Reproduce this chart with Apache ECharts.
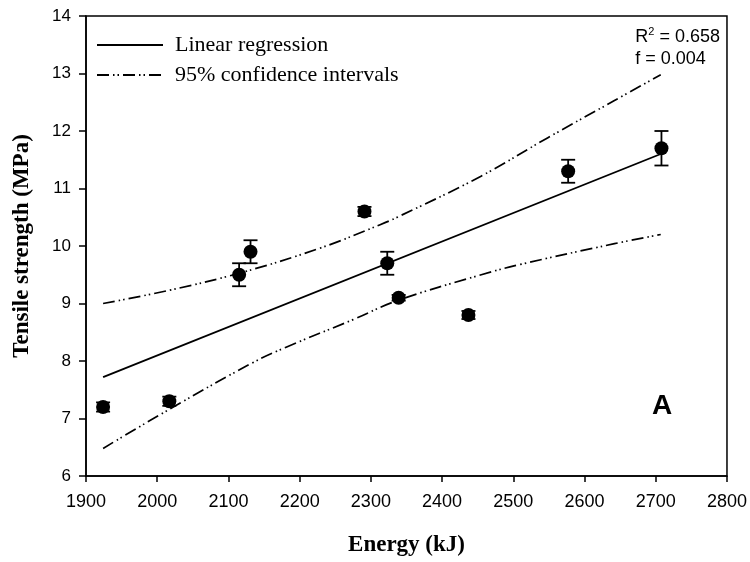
<!DOCTYPE html>
<html>
<head>
<meta charset="utf-8">
<script src="https://cdn.jsdelivr.net/npm/echarts@6/dist/echarts.min.js"></script>
<style>
  html, body { margin: 0; padding: 0; background: #fff; }
  #chart { width: 750px; height: 562px; }
</style>
</head>
<body>
<div id="chart"></div>
<script>
// measured points: energy (kJ), tensile strength (MPa), error (MPa)
const energy = [1924, 2017, 2115, 2131, 2291, 2323, 2339, 2437, 2577, 2708]
const strength = [7.2, 7.3, 9.5, 9.9, 10.6, 9.7, 9.1, 8.8, 11.3, 11.7]
const errors = [0.08, 0.08, 0.2, 0.2, 0.08, 0.2, 0.05, 0.07, 0.2, 0.3]

// fitted line end points
const regX = [1924, 2707]
const regY = [7.72, 11.6]

// 95% confidence bands
const upperX = [1924, 2017, 2116, 2228, 2313, 2337, 2454, 2548, 2642, 2707]
const upperY = [9.0, 9.23, 9.53, 9.96, 10.37, 10.5, 11.21, 11.88, 12.53, 12.98]
const lowerX = [1924, 2017, 2134, 2181, 2275, 2337, 2455, 2510, 2642, 2707]
const lowerY = [6.48, 7.16, 7.97, 8.24, 8.72, 9.05, 9.5, 9.68, 10.04, 10.2]

const xTicks = { min: 1900, max: 2800, interval: 100 }
const yTicks = { min: 6, max: 14, interval: 1 }

const serif = 'Liberation Serif'
const sans = 'Liberation Sans'

const zip = (a, b) => a.map((v, i) => [v, b[i]])
const bandStyle = { color: '#000', width: 1.7, type: [12, 4, 1.5, 3, 1.5, 4] }

const chart = echarts.init(document.getElementById('chart'))

const option = {
  backgroundColor: '#fff',
  animation: false,
  grid: {
    left: 86,
    right: 23,
    top: 16,
    bottom: 84,
    show: true,
    borderColor: '#000',
    borderWidth: 1.5
  },
  legend: {
    data: ['Linear regression', '95% confidence intervals'],
    orient: 'vertical',
    left: 91,
    top: 29,
    itemWidth: 66,
    itemHeight: 12,
    itemGap: 8,
    itemStyle: { opacity: 0 },
    textStyle: { fontFamily: serif, fontSize: 22, color: '#000', padding: [0, 0, 0, 7] }
  },
  xAxis: {
    type: 'value',
    min: xTicks.min,
    max: xTicks.max,
    interval: xTicks.interval,
    name: 'Energy (kJ)',
    nameLocation: 'middle',
    nameGap: 58,
    nameTextStyle: { fontFamily: serif, fontWeight: 'bold', fontSize: 23, color: '#000' },
    axisLine: { lineStyle: { color: '#000', width: 1.5 } },
    axisTick: { show: true, length: 6, lineStyle: { color: '#000', width: 1.5 } },
    axisLabel: { fontFamily: sans, fontSize: 18, color: '#000', margin: 17, formatter: v => String(v) },
    splitLine: { show: false }
  },
  yAxis: {
    type: 'value',
    min: yTicks.min,
    max: yTicks.max,
    interval: yTicks.interval,
    name: 'Tensile strength (MPa)',
    nameLocation: 'middle',
    nameGap: 52,
    nameTextStyle: { fontFamily: serif, fontWeight: 'bold', fontSize: 23, color: '#000' },
    axisLine: { lineStyle: { color: '#000', width: 1.5 } },
    axisTick: { show: true, length: 7, lineStyle: { color: '#000', width: 1.5 } },
    axisLabel: { fontFamily: sans, fontSize: 17, color: '#000', margin: 15 },
    splitLine: { show: false }
  },
  graphic: [
    {
      type: 'text',
      right: 30,
      top: 26,
      style: {
        text: 'R{sup|2} = 0.658\nf = 0.004',
        font: '18px ' + sans,
        fill: '#000',
        lineHeight: 22,
        rich: {
          sup: { fontSize: 11, verticalAlign: 'top', padding: [0, 0, 8, 0], fontFamily: sans }
        }
      }
    },
    {
      type: 'text',
      left: 652,
      top: 392,
      style: { text: 'A', font: 'bold 28px ' + sans, fill: '#000' }
    }
  ],
  series: [
    {
      name: 'Linear regression',
      type: 'line',
      data: zip(regX, regY),
      symbol: 'none',
      lineStyle: { color: '#000', width: 1.8 },
      itemStyle: { color: '#000' },
      z: 2
    },
    {
      name: '95% confidence intervals',
      type: 'line',
      data: zip(upperX, upperY),
      smooth: 0.4,
      symbol: 'none',
      lineStyle: bandStyle,
      itemStyle: { color: '#000' },
      z: 2
    },
    {
      name: '95% confidence intervals',
      type: 'line',
      data: zip(lowerX, lowerY),
      smooth: 0.4,
      symbol: 'none',
      lineStyle: bandStyle,
      itemStyle: { color: '#000' },
      z: 2
    },
    {
      name: 'error',
      type: 'custom',
      data: energy.map((x, i) => [x, strength[i] - errors[i], strength[i] + errors[i]]),
      renderItem: function (params, api) {
        const lo = api.coord([api.value(0), api.value(1)])
        const hi = api.coord([api.value(0), api.value(2)])
        const w = 7
        const s = { stroke: '#000', lineWidth: 1.8 }
        return {
          type: 'group',
          children: [
            { type: 'line', shape: { x1: lo[0], y1: lo[1], x2: hi[0], y2: hi[1] }, style: s },
            { type: 'line', shape: { x1: lo[0] - w, y1: lo[1], x2: lo[0] + w, y2: lo[1] }, style: s },
            { type: 'line', shape: { x1: hi[0] - w, y1: hi[1], x2: hi[0] + w, y2: hi[1] }, style: s }
          ]
        }
      },
      z: 3
    },
    {
      name: 'points',
      type: 'scatter',
      data: zip(energy, strength),
      symbol: 'circle',
      symbolSize: 14,
      itemStyle: { color: '#000', opacity: 1 },
      z: 4
    }
  ]
}

chart.setOption(option)
</script>
</body>
</html>
